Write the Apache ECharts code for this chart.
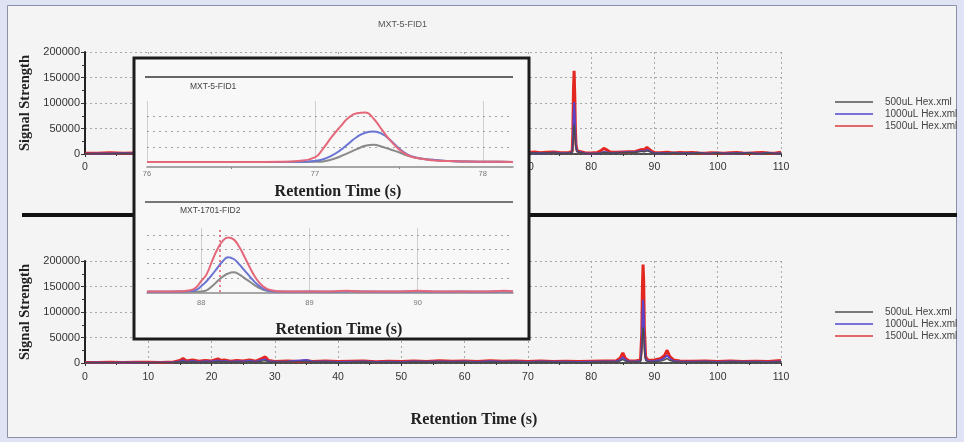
<!DOCTYPE html>
<html><head><meta charset="utf-8">
<script src="https://cdn.jsdelivr.net/npm/echarts@6/dist/echarts.min.js"></script>
<style>html,body{margin:0;padding:0;background:#dfe3f3;}#c{width:964px;height:442px;}</style>
</head><body><div id="c"></div>
<script>
// ---------- data ----------
const seriesNames = ['500uL Hex.xml', '1000uL Hex.xml', '1500uL Hex.xml'];
const xTicksMain = [0, 10, 20, 30, 40, 50, 60, 70, 80, 90, 100, 110];
const yTicksMain = [0, 50000, 100000, 150000, 200000];

// Top chromatogram (MXT-5-FID1)
const topTime = [0, 2, 4, 6, 8, 10, 15, 20, 25, 30, 35, 40, 45, 50, 55, 60, 65, 68, 70, 71, 72, 73, 74, 75, 76, 76.5, 77.0, 77.1, 77.2, 77.3, 77.4, 77.5, 77.6, 77.8, 78, 79, 80, 81, 81.5, 82, 82.3, 82.6, 83, 84, 85, 86, 87, 87.5, 88, 88.4, 88.8, 89.2, 89.6, 90, 91, 92, 93, 94, 95, 96, 97, 98, 99, 100, 101, 102, 103, 104, 105, 106, 107, 108, 109, 110];
const topRed = [1500, 1500, 2500, 1500, 2000, 1500, 2000, 2500, 2000, 2500, 2000, 2500, 2000, 3000, 2000, 3000, 2500, 3000, 2500, 4000, 2500, 3500, 4000, 3000, 2500, 3000, 5000, 40000, 125000, 163000, 118000, 50000, 18000, 6000, 3000, 2500, 2000, 3000, 6000, 11000, 13000, 7000, 4000, 3500, 4000, 4500, 5000, 7000, 9000, 8000, 13000, 9000, 5000, 3000, 2500, 3500, 2000, 3000, 2500, 3000, 2000, 1500, 2500, 2000, 1500, 2500, 3000, 2000, 1500, 2500, 3000, 2000, 1500, 3500];
const topBlue = [800, 1200, 1000, 1800, 1000, 1200, 1500, 1000, 2000, 1200, 1500, 1000, 2000, 1500, 2500, 1500, 2000, 1500, 3000, 1500, 2000, 1500, 3000, 2000, 1500, 2000, 3000, 22000, 75000, 102000, 80000, 38000, 14000, 5000, 2000, 1500, 1000, 1500, 2000, 4000, 6000, 3000, 2000, 2500, 3000, 3500, 4000, 5000, 6000, 5000, 8000, 6000, 3000, 1500, 2000, 1500, 2500, 1500, 2000, 1500, 2500, 1000, 1500, 2500, 1000, 1500, 2000, 1500, 2500, 1000, 1500, 2500, 1000, 1500];
const topGray = [500, 800, 600, 1000, 700, 900, 1000, 700, 1200, 800, 1000, 1200, 800, 1500, 1000, 1800, 1200, 2000, 1500, 2500, 1200, 2000, 2500, 1500, 1000, 1500, 2000, 12000, 42000, 58000, 47000, 25000, 9000, 4000, 1500, 1000, 800, 1200, 1500, 3000, 4000, 2500, 1500, 2000, 2500, 3000, 3000, 4000, 5000, 4000, 6000, 4500, 2500, 1200, 1500, 1000, 2000, 1000, 1500, 1200, 2000, 800, 1200, 2000, 800, 1200, 1500, 1000, 2000, 800, 1200, 2000, 800, 1200];

// Bottom chromatogram (MXT-1701-FID2)
const botTime = [0, 2, 4, 6, 8, 10, 12, 14, 15, 15.5, 16, 17, 18, 19, 20, 21, 21.5, 22, 23, 24, 25, 26, 27, 28, 28.5, 29, 30, 32, 34, 35, 36, 38, 40, 42, 44, 46, 48, 50, 52, 54, 56, 58, 60, 62, 64, 66, 68, 70, 72, 74, 76, 78, 80, 82, 84, 84.6, 85, 85.4, 86, 87, 87.8, 88.0, 88.1, 88.2, 88.3, 88.4, 88.6, 89, 90, 91, 91.6, 92, 92.4, 93, 94, 96, 98, 100, 102, 104, 106, 108, 110];
const botRed = [1000, 1000, 1500, 1000, 1500, 1500, 1000, 2000, 5000, 9000, 4000, 6000, 3500, 5000, 4000, 8000, 5000, 6000, 3500, 5000, 4000, 6000, 3500, 9000, 12000, 5000, 3000, 4000, 3000, 4500, 3000, 4000, 3000, 3500, 4000, 2500, 3500, 3000, 4000, 3000, 4500, 3500, 4000, 3000, 4500, 3500, 4000, 3000, 4000, 3000, 3500, 3000, 3500, 4000, 4500, 10000, 20000, 9000, 4000, 4000, 6000, 60000, 150000, 193000, 160000, 70000, 12000, 5000, 6000, 9000, 15000, 25000, 13000, 6000, 4000, 3500, 4000, 3000, 4000, 3000, 3500, 3000, 5000];
const botBlue = [800, 1000, 800, 1200, 1000, 800, 1200, 1500, 3000, 5000, 2500, 4000, 2000, 3500, 3000, 5000, 3000, 4000, 2500, 3500, 3000, 4500, 2500, 6000, 7000, 3500, 2500, 3000, 5000, 6000, 2500, 3000, 2000, 2500, 3000, 2000, 2500, 2000, 3000, 2500, 3000, 2500, 3000, 2000, 3500, 2500, 3000, 2000, 3000, 2500, 2500, 2000, 2500, 3000, 3500, 6000, 11000, 6000, 3000, 3000, 4000, 35000, 95000, 124000, 105000, 45000, 8000, 3500, 4000, 6000, 10000, 15000, 9000, 4000, 3000, 2500, 3000, 2000, 3000, 2500, 2500, 2000, 3000];
const botGray = [500, 700, 500, 800, 600, 500, 800, 1000, 2000, 3000, 1500, 2500, 1200, 2000, 1800, 3000, 2000, 2500, 1500, 2000, 1800, 2500, 1500, 3500, 4500, 2000, 1500, 2000, 2500, 3000, 1500, 2000, 1200, 1500, 2000, 1200, 1500, 1200, 2000, 1500, 2000, 1500, 2000, 1200, 2000, 1500, 2000, 1200, 2000, 1500, 1500, 1200, 1500, 2000, 2000, 4000, 7000, 3500, 2000, 2000, 2500, 20000, 55000, 70000, 60000, 25000, 5000, 2000, 2500, 3500, 6000, 9000, 5000, 2500, 2000, 1500, 2000, 1200, 2000, 1500, 1500, 1200, 2000];

// Inset, zoom on MXT-5-FID1 peak
const insetTopTime = [76.0, 76.2, 76.4, 76.6, 76.8, 76.9, 77.0, 77.05, 77.1, 77.15, 77.2, 77.25, 77.3, 77.35, 77.4, 77.45, 77.5, 77.55, 77.6, 77.7, 77.8, 77.9, 78.0, 78.1, 78.18];
const insetTopRed = [0, 0, 0, 0, 1000, 3500, 15000, 45000, 82000, 115000, 145000, 160000, 162000, 142000, 105000, 70000, 42000, 23000, 14000, 6000, 3000, 1500, 800, 500, 300];
const insetTopBlue = [0, 0, 0, 0, 0, 500, 3500, 9000, 21000, 38000, 60000, 82000, 96000, 100000, 92000, 71000, 45000, 25000, 15000, 7000, 3000, 1500, 800, 500, 300];
const insetTopGray = [0, 0, 0, 0, 0, 0, 500, 2000, 8000, 18000, 30000, 42000, 53000, 56500, 50000, 41000, 32000, 21000, 14000, 7000, 3000, 1500, 800, 500, 300];
const insetTopTicks = [76, 77, 78];
const insetTopGridY = [50000, 100000, 150000];

// Inset, zoom on MXT-1701-FID2 peak
const insetBotTime = [87.5, 87.7, 87.8, 87.9, 87.95, 88.0, 88.05, 88.1, 88.15, 88.2, 88.25, 88.3, 88.35, 88.4, 88.45, 88.5, 88.55, 88.6, 88.65, 88.7, 88.8, 89.0, 89.2, 89.35, 89.5, 89.8, 90.0, 90.2, 90.4, 90.6, 90.8, 90.88];
const insetBotRed = [1500, 1500, 2500, 6000, 15000, 38000, 62000, 108000, 150000, 180000, 192000, 185000, 160000, 124000, 86000, 52000, 27000, 13000, 6000, 3000, 1500, 1500, 2000, 4500, 1500, 2000, 4000, 1500, 2000, 1500, 4000, 2000];
const insetBotBlue = [1000, 1000, 1500, 3500, 7000, 20000, 38000, 60000, 85000, 108000, 122000, 116000, 98000, 76000, 54000, 33000, 17000, 7000, 3000, 1500, 1000, 1500, 1000, 3000, 1500, 1000, 2500, 1000, 1500, 1000, 2500, 1500];
const insetBotGray = [500, 500, 800, 1000, 1000, 2000, 6000, 20000, 38000, 54000, 65000, 69000, 62000, 49000, 36000, 22000, 12000, 5000, 2000, 1000, 800, 1000, 800, 2000, 1000, 800, 1500, 800, 1000, 800, 1500, 1000];
const insetBotTicks = [88, 89, 90];
const insetBotGridY = [50000, 100000, 150000, 200000];
const insetBotMarker = 88.17;

// ---------- chart ----------
const zip = (t, v) => t.map((x, i) => [x, v[i]]);
const SANS = 'Liberation Sans, Arial, sans-serif';
const SERIF = 'Liberation Serif, DejaVu Serif, serif';
const MAIN = { gray: '#4a4a4a', blue: '#5a44cc', red: '#e3261f' };
const INS = { gray: '#8a8a8a', blue: '#6a74d2', red: '#e4687a' };
const LEG = { gray: '#7a7a7a', blue: '#7a72d6', red: '#e06868' };
const dotted = { color: '#a8a8a8', type: [2, 3], width: 1 };

function mainX(grid, margin) {
  return {
    gridIndex: grid, type: 'value', min: xTicksMain[0], max: xTicksMain[xTicksMain.length - 1], interval: 10,
    axisLine: { onZero: false, lineStyle: { color: '#222', width: 1.5 } },
    axisTick: { show: true, length: 3, lineStyle: { color: '#333' } },
    minorTick: { show: true, splitNumber: 2, length: 2, lineStyle: { color: '#333' } },
    axisLabel: { fontSize: 10.5, color: '#333', margin: margin, fontFamily: SANS },
    splitLine: { show: true, lineStyle: dotted }
  };
}
function mainY(grid) {
  return {
    gridIndex: grid, type: 'value', min: yTicksMain[0], max: yTicksMain[yTicksMain.length - 1], interval: 50000,
    name: 'Signal Strength', nameLocation: 'middle', nameGap: 47,
    nameTextStyle: { fontFamily: SERIF, fontWeight: 'bold', fontSize: 14.5, color: '#222' },
    axisLine: { show: true, lineStyle: { color: '#222', width: 2 } },
    axisTick: { show: true, length: 4, lineStyle: { color: '#333' } },
    minorTick: { show: true, splitNumber: 2, length: 3, lineStyle: { color: '#333' } },
    axisLabel: { fontSize: 11, color: '#333', margin: 5, fontFamily: SANS, formatter: v => String(v) },
    splitLine: { show: true, lineStyle: dotted }
  };
}
function mainSeries(idx, t, g, b, r) {
  const base = { type: 'line', xAxisIndex: idx, yAxisIndex: idx, symbol: 'none', animation: false, z: 2 };
  return [
    Object.assign({}, base, { name: seriesNames[2], data: zip(t, r), lineStyle: { color: MAIN.red, width: 3 }, itemStyle: { color: MAIN.red } }),
    Object.assign({}, base, { name: seriesNames[1], data: zip(t, b), lineStyle: { color: MAIN.blue, width: 1.8 }, itemStyle: { color: MAIN.blue } }),
    Object.assign({}, base, { name: seriesNames[0], data: zip(t, g), lineStyle: { color: MAIN.gray, width: 1.3 }, itemStyle: { color: MAIN.gray } })
  ];
}
const gridLineStyle = { color: '#cfcfcf', type: 'solid', width: 1 };
function insetSeries(idx, t, g, b, r, vTicks, hLines, extra) {
  const base = { type: 'line', xAxisIndex: idx, yAxisIndex: idx, symbol: 'none', animation: false, z: 30, smooth: 0.5 };
  const ml = {
    z: 29, silent: true, symbol: 'none', label: { show: false }, animation: false,
    data: vTicks.map(v => ({ xAxis: v, lineStyle: gridLineStyle }))
      .concat(hLines.map(v => ({ yAxis: v, lineStyle: { color: '#a0a0a0', type: [2, 4], width: 1 } })))
  };
  const redSeries = Object.assign({}, base, { name: seriesNames[2], data: zip(t, r), lineStyle: { color: INS.red, width: 2 }, itemStyle: { color: INS.red } });
  if (extra) redSeries.markLine = extra;
  return [
    Object.assign({}, base, { name: seriesNames[0], data: zip(t, g), lineStyle: { color: INS.gray, width: 2 }, itemStyle: { color: INS.gray }, markLine: ml }),
    Object.assign({}, base, { name: seriesNames[1], data: zip(t, b), lineStyle: { color: INS.blue, width: 2 }, itemStyle: { color: INS.blue } }),
    redSeries
  ];
}
const intLabel = v => (Math.abs(v - Math.round(v)) < 1e-6 ? String(Math.round(v)) : '');
function legendAt(top) {
  return {
    left: 830, top: top, orient: 'vertical', icon: 'rect', itemWidth: 38, itemHeight: 2, itemGap: 0,
    selectedMode: false,
    textStyle: { fontSize: 10, color: '#444', lineHeight: 12, fontFamily: SANS, padding: [0, 0, 0, 7] },
    data: [
      { name: seriesNames[0], itemStyle: { color: LEG.gray } },
      { name: seriesNames[1], itemStyle: { color: LEG.blue } },
      { name: seriesNames[2], itemStyle: { color: LEG.red } }
    ]
  };
}
function gText(x, y, text, font, align, z, fill) {
  return { type: 'text', x: x, y: y, z: z, silent: true,
    style: { text: text, font: font, fill: fill || '#222', align: align, verticalAlign: 'middle', textAlign: align, textVerticalAlign: 'middle' } };
}

const chart = echarts.init(document.getElementById('c'), null, { renderer: 'canvas' });
chart.setOption({
  backgroundColor: 'transparent',
  animation: false,
  title: { text: 'MXT-5-FID1', left: 373, top: 15, textStyle: { fontSize: 9, fontWeight: 'normal', color: '#555', fontFamily: SANS } },
  legend: [legendAt(91), legendAt(301)],
  grid: [
    { left: 85, top: 52, width: 696, height: 102 },
    { left: 85, top: 261, width: 696, height: 102 },
    { left: 147, top: 101, width: 366, height: 61, z: 30 },
    { left: 147, top: 228, width: 366, height: 64, z: 30 }
  ],
  xAxis: [
    mainX(0, 8),
    mainX(1, 9),
    { gridIndex: 2, type: 'value', min: insetTopTicks[0], max: 78.18, interval: 1, offset: 5, z: 30,
      axisLine: { onZero: false, lineStyle: { color: '#8a8a8a', width: 1.5 } },
      axisTick: { show: false }, minorTick: { show: true, splitNumber: 2, length: 2, lineStyle: { color: '#888' } },
      axisLabel: { fontSize: 7.5, color: '#777', margin: 3, fontFamily: SANS, formatter: intLabel, showMaxLabel: false },
      splitLine: { show: false } },
    { gridIndex: 3, type: 'value', min: 87.5, max: 90.88, interval: 0.5, offset: 1, z: 30,
      axisLine: { onZero: false, lineStyle: { color: '#8a8a8a', width: 1.5 } },
      axisTick: { show: false },
      axisLabel: { fontSize: 7.5, color: '#777', margin: 6, fontFamily: SANS, formatter: intLabel },
      splitLine: { show: false } }
  ],
  yAxis: [
    mainY(0),
    mainY(1),
    { gridIndex: 2, type: 'value', min: 0, max: 200000, z: 30, axisLine: { show: false }, axisTick: { show: false }, axisLabel: { show: false }, splitLine: { show: false } },
    { gridIndex: 3, type: 'value', min: 0, max: 225000, z: 30, axisLine: { show: false }, axisTick: { show: false }, axisLabel: { show: false }, splitLine: { show: false } }
  ],
  series: [].concat(
    mainSeries(0, topTime, topGray, topBlue, topRed),
    mainSeries(1, botTime, botGray, botBlue, botRed),
    insetSeries(2, insetTopTime, insetTopGray, insetTopBlue, insetTopRed, insetTopTicks, insetTopGridY, null),
    insetSeries(3, insetBotTime, insetBotGray, insetBotBlue, insetBotRed, insetBotTicks, insetBotGridY,
      { z: 31, silent: true, symbol: 'none', label: { show: false }, animation: false,
        data: [{ xAxis: insetBotMarker, lineStyle: { color: '#e05a6a', type: [2, 3], width: 1.5 } }] })
  ),
  graphic: { elements: [
    { type: 'rect', z: -10, silent: true, shape: { x: 7.5, y: 5.5, width: 949, height: 432 }, style: { fill: '#f4f4f4', stroke: '#8a90a6', lineWidth: 1 } },
    { type: 'line', z: 10, silent: true, shape: { x1: 22, y1: 215, x2: 957, y2: 215 }, style: { stroke: '#111', lineWidth: 4 } },
    { type: 'rect', z: 20, silent: true, shape: { x: 134, y: 58, width: 395, height: 281 }, style: { fill: '#f8f8f8', stroke: '#1c1c1c', lineWidth: 3 } },
    { type: 'line', z: 25, silent: true, shape: { x1: 145, y1: 77, x2: 513, y2: 77 }, style: { stroke: '#666', lineWidth: 2 } },
    { type: 'line', z: 25, silent: true, shape: { x1: 145, y1: 202, x2: 513, y2: 202 }, style: { stroke: '#777', lineWidth: 2 } },
    gText(190, 87, 'MXT-5-FID1', '8.5px ' + SANS, 'left', 31, '#444'),
    gText(180, 211, 'MXT-1701-FID2', '8.5px ' + SANS, 'left', 31, '#444'),
    gText(338, 192, 'Retention Time (s)', 'bold 16px ' + SERIF, 'center', 31),
    gText(339, 330, 'Retention Time (s)', 'bold 16px ' + SERIF, 'center', 31),
    gText(474, 420, 'Retention Time (s)', 'bold 16px ' + SERIF, 'center', 31)
  ] }
});
</script></body></html>
